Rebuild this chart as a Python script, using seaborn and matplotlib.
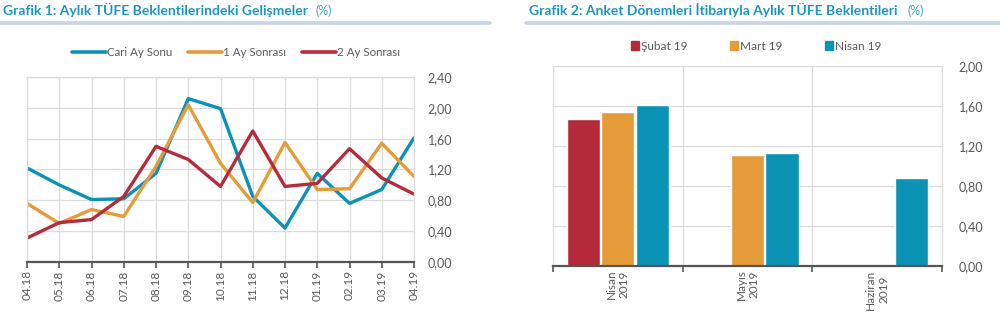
import numpy as np
import pandas as pd
import matplotlib
matplotlib.use("Agg")
import matplotlib.pyplot as plt
import seaborn as sns
from matplotlib.lines import Line2D
from matplotlib.patches import Rectangle

# ---- data ----
months = ["04.18", "05.18", "06.18", "07.18", "08.18", "09.18", "10.18",
          "11.18", "12.18", "01.19", "02.19", "03.19", "04.19"]
cari_ay = [1.22, 1.00, 0.81, 0.82, 1.15, 2.12, 1.99, 0.85, 0.44, 1.15, 0.76, 0.94, 1.61]
bir_ay = [0.76, 0.50, 0.68, 0.59, 1.24, 2.04, 1.28, 0.77, 1.55, 0.94, 0.95, 1.54, 1.11]
iki_ay = [0.31, 0.51, 0.55, 0.85, 1.50, 1.33, 0.98, 1.70, 0.98, 1.02, 1.47, 1.09, 0.88]
line_series = ["Cari Ay Sonu", "1 Ay Sonrası", "2 Ay Sonrası"]

bar_cats = ["Nisan\n2019", "Mayıs\n2019", "Haziran\n2019"]
bar_series = ["Şubat 19", "Mart 19", "Nisan 19"]
subat19 = [1.47, np.nan, np.nan]
mart19 = [1.54, 1.11, np.nan]
nisan19 = [1.61, 1.13, 0.88]

left_ticks = [0.0, 0.4, 0.8, 1.2, 1.6, 2.0, 2.4]
right_ticks = [0.0, 0.4, 0.8, 1.2, 1.6, 2.0]

# ---- style ----
sns.set_theme(style="white")
plt.rcParams["font.family"] = ["Lato", "DejaVu Sans"]

TEAL = "#0b93b6"
ORANGE = "#e59c38"
RED = "#b52b3c"
TITLE_C = "#1d96bd"
GRID = "#dcdcdc"
TXT = "#5a5a5a"

fig = plt.figure(figsize=(10, 3.25), dpi=100)

def fmt(v):
    return f"{v:.2f}".replace(".", ",")

# ---- left chart ----
df_line = pd.DataFrame({
    "Ay": months * 3,
    "Deger": cari_ay + bir_ay + iki_ay,
    "Seri": [line_series[0]] * len(months) + [line_series[1]] * len(months)
            + [line_series[2]] * len(months),
})
ax1 = fig.add_axes([0.027, 0.194, 0.387, 0.569])
sns.lineplot(data=df_line, x="Ay", y="Deger", hue="Seri", hue_order=line_series,
             palette=[TEAL, ORANGE, RED], linewidth=2.4, sort=False, ax=ax1,
             legend=False)
ax1.set_xlim(0, len(months) - 1)
ax1.set_ylim(0, 2.4)
ax1.set_yticks(left_ticks)
ax1.set_yticklabels([fmt(v) for v in left_ticks])
ax1.yaxis.tick_right()
ax1.set_xticks(range(len(months)))
ax1.set_xticklabels(months, rotation=90)
ax1.set_xlabel("")
ax1.set_ylabel("")
ax1.grid(True, color=GRID, linewidth=0.9)
ax1.set_axisbelow(True)
for s in ["top", "left", "right"]:
    ax1.spines[s].set_color(GRID)
    ax1.spines[s].set_linewidth(0.9)
ax1.spines["bottom"].set_color("#555555")
ax1.spines["bottom"].set_linewidth(1.6)
ax1.tick_params(axis="x", bottom=True, length=4, width=1.2, color="#555555",
                labelsize=8.5, labelcolor=TXT, pad=2)
ax1.tick_params(axis="y", right=False, left=False, length=0, labelsize=9,
                labelcolor=TXT, pad=10)
handles = [Line2D([], [], color=c, linewidth=2.6) for c in [TEAL, ORANGE, RED]]
fig.legend(handles, line_series, loc="center", bbox_to_anchor=(0.236, 0.837),
           ncol=3, frameon=False, fontsize=8.3, labelcolor=TXT, handlelength=2.9,
           handletextpad=0.1, columnspacing=1.4)

# ---- right chart ----
df_bar = pd.DataFrame({
    "Donem": bar_cats * 3,
    "Deger": subat19 + mart19 + nisan19,
    "Anket": [bar_series[0]] * 3 + [bar_series[1]] * 3 + [bar_series[2]] * 3,
})
ax2 = fig.add_axes([0.553, 0.182, 0.389, 0.615])
sns.barplot(data=df_bar, x="Donem", y="Deger", hue="Anket", hue_order=bar_series,
            palette=[RED, ORANGE, TEAL], width=0.8, gap=0.04, saturation=1,
            ax=ax2, legend=False)
ax2.set_xlim(-0.5, 2.5)
ax2.set_ylim(0, 2.0)
ax2.set_yticks(right_ticks)
ax2.set_yticklabels([fmt(v) for v in right_ticks])
ax2.yaxis.tick_right()
ax2.set_xticks([-0.5, 0.5, 1.5, 2.5], minor=True)
ax2.set_xticks([0, 1, 2])
ax2.set_xticklabels(bar_cats, rotation=90, rotation_mode="anchor", ha="right",
                    va="center", multialignment="center")
ax2.set_xlabel("")
ax2.set_ylabel("")
ax2.grid(True, axis="y", color=GRID, linewidth=0.9)
ax2.grid(True, axis="x", which="minor", color=GRID, linewidth=0.9)
ax2.set_axisbelow(True)
for s in ["top", "left", "right"]:
    ax2.spines[s].set_color(GRID)
    ax2.spines[s].set_linewidth(0.9)
ax2.spines["bottom"].set_color("#555555")
ax2.spines["bottom"].set_linewidth(1.6)
ax2.tick_params(axis="x", which="major", bottom=False, length=0, labelsize=8.5,
                labelcolor=TXT, pad=2.5)
ax2.tick_params(axis="x", which="minor", bottom=True, length=4, width=1.2,
                color="#555555")
ax2.tick_params(axis="y", right=False, left=False, length=0, labelsize=9,
                labelcolor=TXT, pad=12)
bh = [Rectangle((0, 0), 1, 1, color=c) for c in [RED, ORANGE, TEAL]]
fig.legend(bh, bar_series, loc="center", bbox_to_anchor=(0.756, 0.858),
           ncol=3, frameon=False, fontsize=8.5, labelcolor=TXT, handlelength=0.7,
           handleheight=0.7, handletextpad=0.15, columnspacing=3.6)

# ---- titles ----
fig.text(0.003, 0.968, "Grafik 1: Aylık TÜFE Beklentilerindeki Gelişmeler",
         fontsize=10, fontweight="bold", color=TITLE_C, va="center", ha="left")
fig.text(0.316, 0.968, "(%)", fontsize=9, color="#4aa8c8", va="center", ha="left")
fig.text(0.529, 0.968, "Grafik 2: Anket Dönemleri İtibarıyla Aylık TÜFE Beklentileri",
         fontsize=10, fontweight="bold", color=TITLE_C, va="center", ha="left")
fig.text(0.908, 0.968, "(%)", fontsize=9, color="#4aa8c8", va="center", ha="left")
fig.add_artist(Line2D([0.0, 0.49], [0.93, 0.93], color="#c9d5e4", linewidth=2.6,
                      transform=fig.transFigure))
fig.add_artist(Line2D([0.526, 1.0], [0.93, 0.93], color="#c9d5e4", linewidth=2.6,
                      transform=fig.transFigure))

fig.savefig("out.png", dpi=100, facecolor="white")
